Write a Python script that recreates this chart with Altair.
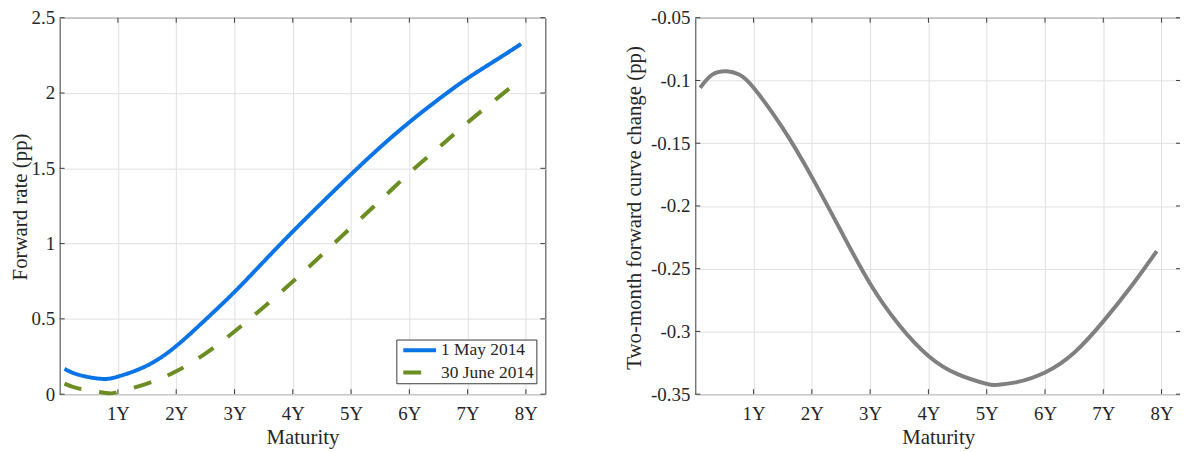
import altair as alt
import pandas as pd

# ---------------- data (months to maturity) ----------------
series_names = ["1 May 2014", "30 June 2014"]

blue_months = [1, 4, 8.5, 12, 18, 24, 30, 36, 42, 48, 54, 60, 66, 72, 78, 84, 90, 95]
blue_rate = [0.168, 0.128, 0.102, 0.117, 0.19, 0.32, 0.494, 0.679, 0.88, 1.08,
             1.272, 1.46, 1.64, 1.806, 1.958, 2.098, 2.222, 2.326]

green_months = [1, 4, 9.5, 12, 18, 24, 30, 36, 42, 48, 54, 60, 66, 72, 78, 84, 90, 95]
green_rate = [0.07, 0.037, 0.008, 0.015, 0.07, 0.152, 0.27, 0.416, 0.578, 0.748,
              0.926, 1.107, 1.286, 1.469, 1.636, 1.804, 1.963, 2.093]

change_months = [1, 3.5, 6.5, 9, 12, 18, 24, 30, 36, 42, 48, 54, 60, 62, 66, 72, 78, 84, 90, 95]
change_pp = [-0.1058, -0.0953, -0.0927, -0.0953, -0.1058, -0.138, -0.177, -0.220,
             -0.262, -0.295, -0.3195, -0.334, -0.3418, -0.3426, -0.3406, -0.3327,
             -0.317, -0.292, -0.2628, -0.236]

x_tick_months = [12, 24, 36, 48, 60, 72, 84, 96]
x_tick_labels = ["1Y", "2Y", "3Y", "4Y", "5Y", "6Y", "7Y", "8Y"]
left_y_ticks = [0, 0.5, 1, 1.5, 2, 2.5]
right_y_ticks = [-0.35, -0.3, -0.25, -0.2, -0.15, -0.1, -0.05]

# ---------------- styling ----------------
W, H = 489, 379
FONT = "Liberation Serif"
TXT = "#262626"
FRAME = "#3a3a3a"
GRID = "#e0e0e0"
BLUE = "#0a74e6"
GREEN = "#6b8e23"
GRAY = "#808080"
INTERP = "natural"
NBSP2 = "\u00a0\u00a0"

left_df = pd.concat([
    pd.DataFrame({"m": blue_months, "v": blue_rate, "series": series_names[0]}),
    pd.DataFrame({"m": green_months, "v": green_rate, "series": series_names[1]}),
])
right_df = pd.DataFrame({"m": change_months, "v": change_pp})
xt_df = pd.DataFrame({"m": x_tick_months})

label_js = "[" + ",".join("'%s'" % s for s in x_tick_labels) + "]"
x_scale = alt.Scale(domain=[0, 100], nice=False, zero=False)
x_axis = alt.Axis(values=x_tick_months, labelExpr=label_js + "[round(datum.value/12)-1]",
                  title="Maturity", titleBaseline="alphabetic", titleY=49.5,
                  ticks=False, tickSize=0, domain=False, labelPadding=10,
                  labelBaseline="top",
                  labelFont=FONT, labelFontSize=19, labelColor=TXT,
                  titleFont=FONT, titleFontSize=21, titleFontWeight="normal", titleColor=TXT)


def y_axis(values, title, title_x, title_y, pad):
    return alt.Axis(values=values, format="~g", title=title,
                    titleX=title_x, titleY=title_y, titleBaseline="alphabetic",
                    titleAngle=270, titleAlign="center",
                    ticks=False, tickSize=0, domain=False, labelPadding=pad,
                    labelFont=FONT, labelFontSize=19, labelColor=TXT,
                    titleFont=FONT, titleFontSize=21, titleFontWeight="normal",
                    titleColor=TXT)


def panel(lines, ydomain, yticks, yaxis):
    X = alt.X("m:Q", scale=x_scale, axis=x_axis)
    Y = alt.Y("v:Q", scale=alt.Scale(domain=ydomain, nice=False, zero=False), axis=yaxis)
    yt_df = pd.DataFrame({"v": yticks})
    tick_top = alt.Chart(xt_df).mark_rule(color=FRAME, strokeWidth=1).encode(
        x=X, y=alt.value(0), y2=alt.value(5))
    tick_bot = alt.Chart(xt_df).mark_rule(color=FRAME, strokeWidth=1).encode(
        x=X, y=alt.value(H - 5), y2=alt.value(H))
    tick_l = alt.Chart(yt_df).mark_rule(color=FRAME, strokeWidth=1).encode(
        y=Y, x=alt.value(0), x2=alt.value(5))
    tick_r = alt.Chart(yt_df).mark_rule(color=FRAME, strokeWidth=1).encode(
        y=Y, x=alt.value(W - 5), x2=alt.value(W))
    return alt.layer(lines(X, Y), tick_top, tick_bot, tick_l, tick_r).properties(
        width=W, height=H)


legend = alt.Legend(title=None, orient="none", legendX=339, legendY=324,
                    symbolType="stroke", symbolSize=1089, symbolStrokeWidth=4,
                    clipHeight=17.5,
                    labelFont=FONT, labelFontSize=17.5, labelColor=TXT,
                    labelExpr="datum.label + '" + NBSP2 + "'")


def left_lines(X, Y):
    return alt.Chart(left_df).mark_line(strokeWidth=4, interpolate=INTERP).encode(
        x=X, y=Y,
        color=alt.Color("series:N", scale=alt.Scale(domain=series_names, range=[BLUE, GREEN]),
                        legend=legend),
        strokeDash=alt.StrokeDash("series:N",
                                  scale=alt.Scale(domain=series_names, range=[[1, 0], [18, 18]]),
                                  legend=legend),
    )


def right_lines(X, Y):
    return alt.Chart(right_df).mark_line(strokeWidth=4, interpolate=INTERP, color=GRAY).encode(
        x=X, y=Y)


left = panel(left_lines, [0, 2.5], left_y_ticks,
             y_axis(left_y_ticks, "Forward rate (pp)", -33, 190, 5))
right = panel(right_lines, [-0.35, -0.05], right_y_ticks,
              y_axis(right_y_ticks, "Two-month forward curve change (pp)", -55, 191, 5.5))

chart = alt.hconcat(left, right, spacing=151, bounds="flush").properties(
    autosize=alt.AutoSizeParams(type="none"),
    padding={"left": 52, "top": 7, "right": 1128, "bottom": 437},
).configure(
    font=FONT,
).configure_view(
    stroke=FRAME, strokeWidth=1,
).configure_axis(
    labelFont=FONT, labelFontSize=19, labelColor=TXT,
    titleFont=FONT, titleFontSize=21, titleFontWeight="normal", titleColor=TXT,
    gridColor=GRID, gridWidth=1, gridOpacity=1,
).configure_legend(
    labelFont=FONT, labelFontSize=17.5, labelColor=TXT,
    padding=2, rowPadding=3.5, labelOffset=3, symbolOffset=3,
    fillColor="white", strokeColor=FRAME, cornerRadius=0,
)

chart.save("out.html", embed_options={
    "renderer": "svg", "actions": False,
    "formatLocale": {"decimal": ".", "thousands": ",", "grouping": [3],
                     "currency": ["$", ""], "minus": "-"},
})
